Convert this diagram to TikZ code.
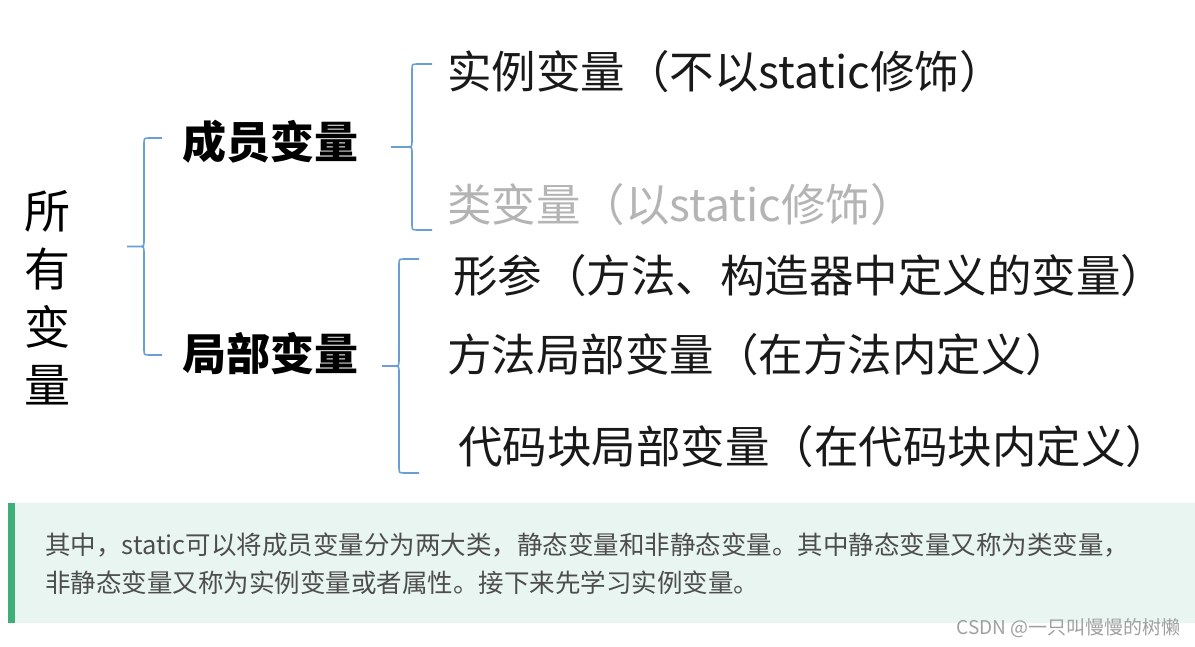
\documentclass[tikz,border=0pt]{standalone}
\usepackage{fontspec}
\setmainfont{Noto Sans CJK SC}
\newfontfamily\cjk{Noto Sans CJK SC}
\usetikzlibrary{calc}
\definecolor{bracecol}{HTML}{6A9FD6}
\definecolor{graytxt}{HTML}{B4B4B4}
\definecolor{notebg}{HTML}{E9F5F0}
\definecolor{notebar}{HTML}{3EAF78}
\definecolor{notetxt}{HTML}{4D4D4D}
\definecolor{wmark}{HTML}{A0A0A0}
\tikzset{
  x=1pt, y=-1pt,
  lbl/.style={inner sep=0pt, anchor=west, font=\cjk\fontsize{44.5}{50}\selectfont, text=black!90},
  grp/.style={inner sep=0pt, anchor=west, font=\cjk\bfseries\fontsize{44}{50}\selectfont},
  bracepath/.style={draw=bracecol, line width=1.6pt},
  note/.style={inner sep=0pt, anchor=west, font=\cjk\fontsize{25.5}{30}\selectfont, text=notetxt}
}
\newcommand{\mybrace}[5]{% #1 tip x, #2 vertical x, #3 end x, #4 top y, #5 bottom y
  \draw[bracepath] (#3,#4) -- ($(#2,#4)+(6,0)$) .. controls (#2,#4) .. ($(#2,#4)+(0,6)$)
    -- ($(#2,{(#4+#5)/2})+(0,-6)$) .. controls (#2,{(#4+#5)/2}) .. ($(#2,{(#4+#5)/2})+(-6,0)$)
    -- (#1,{(#4+#5)/2}) -- ($(#2,{(#4+#5)/2})+(-6,0)$)
    .. controls (#2,{(#4+#5)/2}) .. ($(#2,{(#4+#5)/2})+(0,6)$)
    -- ($(#2,#5)+(0,-6)$) .. controls (#2,#5) .. ($(#2,#5)+(6,0)$) -- (#3,#5);
}
\begin{document}
\begin{tikzpicture}
\path[use as bounding box, fill=white] (0,0) rectangle (1195,647);

% root
\node[inner sep=0pt, align=center, font=\cjk\fontsize{46}{58}\selectfont] (root) at (47,298) {所\\有\\变\\量};

% braces
\mybrace{127}{144}{162}{138}{355}
\mybrace{391}{412}{432}{64}{230}
\mybrace{382}{399}{419}{259}{473}

% groups
\node[grp] (member) at (182,142) {成员变量};
\node[grp] (local) at (182,354) {局部变量};

% leaves
\node[lbl] (inst) at (447,72) {实例变量（不以static修饰）};
\node[lbl, text=graytxt] (cls) at (447,205) {类变量（以static修饰）};
\node[lbl] (param) at (453,276) {形参（方法、构造器中定义的变量）};
\node[lbl] (mloc) at (447,355) {方法局部变量（在方法内定义）};
\node[lbl] (bloc) at (458,447) {代码块局部变量（在代码块内定义）};

% note box
\fill[notebg] (8,503) rectangle (1195,623);
\fill[notebar] (8,503) rectangle (15,623);
\node[note] (n1) at (45,545) {其中，static可以将成员变量分为两大类，静态变量和非静态变量。其中静态变量又称为类变量，};
\node[note] (n2) at (45,583) {非静态变量又称为实例变量或者属性。接下来先学习实例变量。};

% watermark
\node[inner sep=0pt, anchor=east, font=\cjk\fontsize{19}{22}\selectfont, text=wmark] (wm) at (1181,628) {CSDN @一只叫慢慢的树懒};
\end{tikzpicture}
\end{document}
